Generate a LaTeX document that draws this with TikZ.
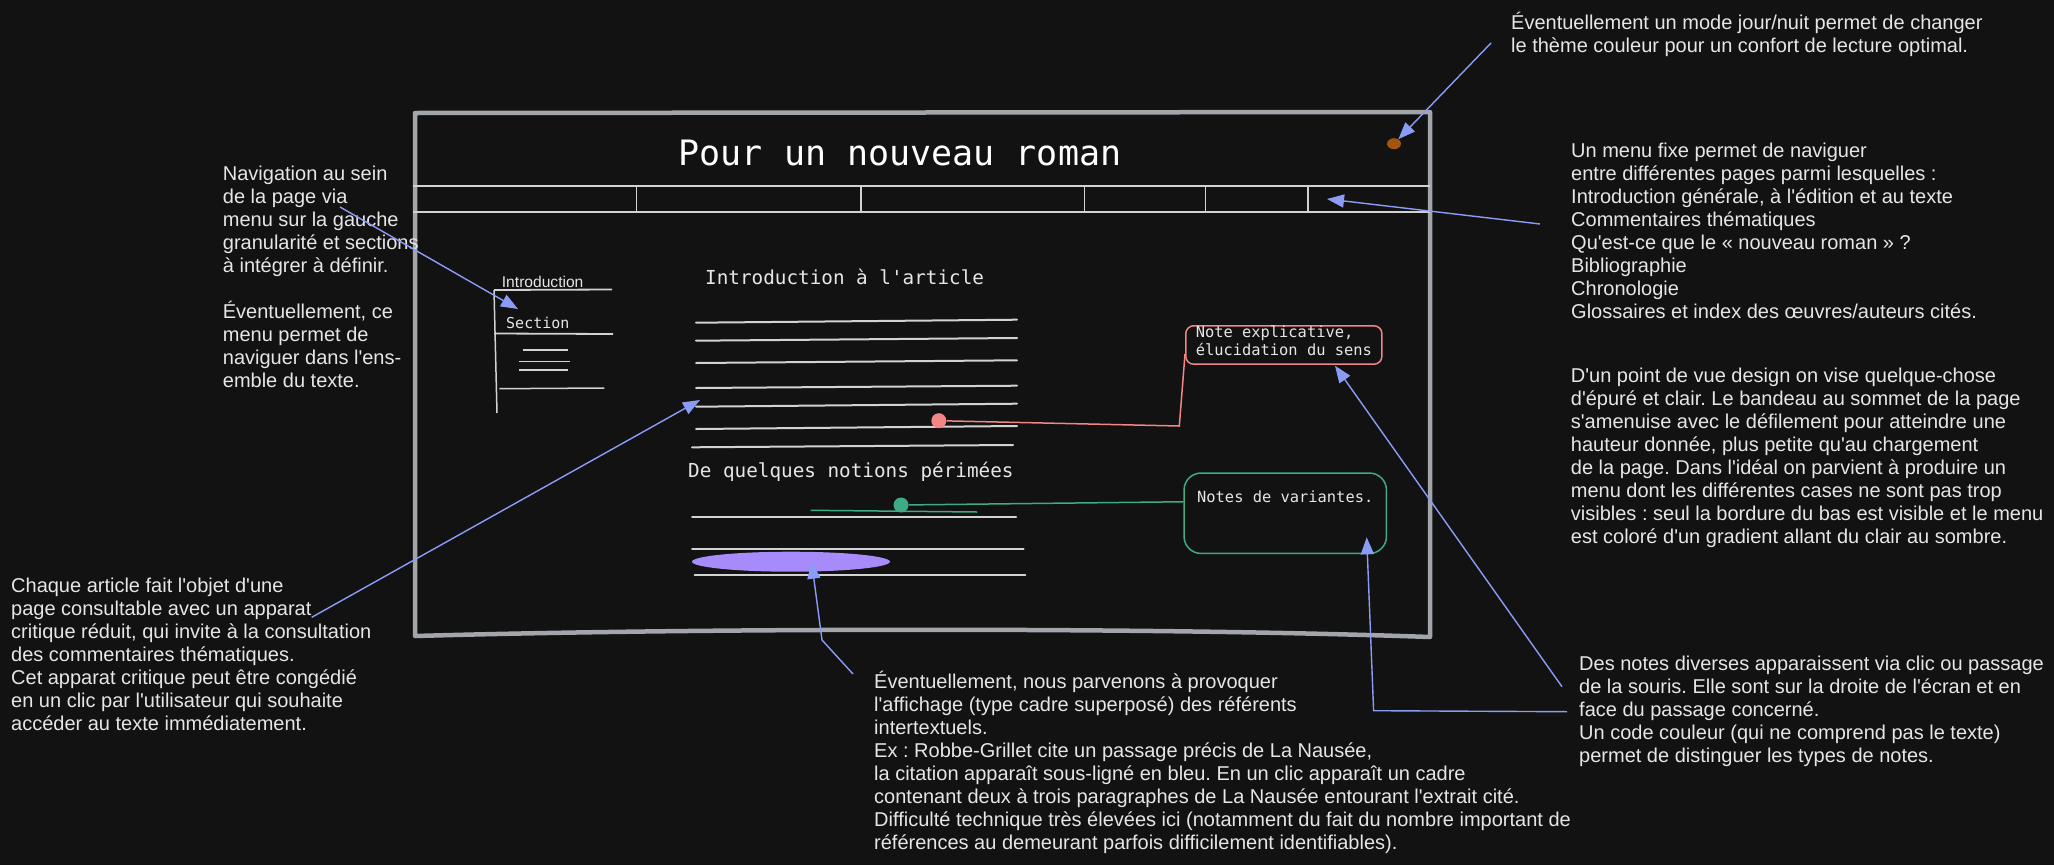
\documentclass[tikz,border=0pt]{standalone}
\usepackage{fontspec}
\usetikzlibrary{arrows.meta,shapes.geometric}
\newfontfamily\annfont{Liberation Sans}[Ligatures=TeXOff]
\newfontfamily\monofont{DejaVu Sans Mono}
\definecolor{bg}{HTML}{121212}
\definecolor{txt}{HTML}{E6E6E6}
\definecolor{framegray}{HTML}{A2A5AA}
\definecolor{linegray}{HTML}{D2D2D2}
\definecolor{blu}{HTML}{8B9CF7}
\definecolor{redn}{HTML}{F28585}
\definecolor{grn}{HTML}{3FAA86}
\definecolor{purp}{HTML}{A78BFA}
\definecolor{orng}{HTML}{A3540E}
\frenchspacing
\begin{document}
\begin{tikzpicture}[x=1pt,y=-1pt,
  ann/.style={font=\annfont\fontsize{20}{23}\selectfont\frenchspacing, text=txt, align=left, anchor=base west, inner sep=0pt},
  monotxt/.style={font=\monofont\fontsize{#1}{#1}\selectfont, text=txt, anchor=base west, inner sep=0pt},
  frameline/.style={draw=framegray, line width=4.5pt, line join=round, line cap=round},
  mline/.style={draw=linegray, line width=2pt, line cap=round},
  menuline/.style={draw=linegray, line width=1.5pt},
  arr/.style={draw=blu, line width=1.4pt, -{Triangle[length=17pt,width=13pt]}},
  dot/.style={circle, minimum size=15pt, inner sep=0pt, fill=#1}
]
\useasboundingbox (0,0) rectangle (2054,865);
\fill[bg] (0,0) rectangle (2054,865);

% ---------- page frame ----------
\draw[frameline] (415,113) -- (1430,112) -- (1430,637)
  .. controls (1150,627) and (700,628) .. (415,636) -- cycle;

% header title
\node[monotxt=35, anchor=base, text=white] (title) at (900,165.7) {Pour un nouveau roman};
\node[ellipse, fill=orng, minimum width=14pt, minimum height=11pt, inner sep=0pt] (odot) at (1394,143.7) {};

% menu bar
\draw[menuline] (413,186) -- (1430,186);
\draw[draw=linegray, line width=2.5pt] (413,212) -- (1430,212);
\foreach \xx in {636.4,860.8,1084.5,1205.7,1308.2}{\draw[menuline] (\xx,186) -- (\xx,212);}
\coordinate (menucell) at (1327,199);

% left mini menu
\node[font=\annfont\fontsize{15.6}{18}\selectfont, text=txt, anchor=base west, inner sep=0pt] (intro) at (501.7,287.7) {Introduction};
\draw[draw=linegray, line width=1.8pt] (494,290) -- (612,289.5);
\draw[draw=linegray, line width=1.5pt] (494,290) -- (497,413);
\node[monotxt=15] (section) at (506,328.3) {Section};
\draw[draw=linegray, line width=1.8pt] (494,333.5) -- (613,334);
\draw[draw=linegray, line width=1.5pt] (522.7,350) -- (568,350);
\draw[draw=linegray, line width=1.5pt] (519.3,361.7) -- (570,361.7);
\draw[draw=linegray, line width=1.5pt] (519.3,370) -- (568,370);
\draw[draw=linegray, line width=1.5pt] (499.3,388.7) -- (604.3,388);

% article text
\node[monotxt=19.3] (h1) at (705,284.3) {Introduction à l'article};
\draw[mline] (696,322.7) -- (1017,319.7);
\draw[mline] (696,340.7) -- (1017,338);
\draw[mline] (696,363) -- (1017,360.3);
\draw[mline] (696,388) -- (1017,385.7);
\draw[mline] (696,406.7) -- (1017,403.7);
\draw[mline] (696,429) -- (1017,426);
\draw[mline] (692,447.3) -- (1013,445);
\node[monotxt=19.3] (h2) at (688,477.3) {De quelques notions périmées};
\draw[mline] (692,517) -- (1016,517);
\draw[mline] (692,548.7) -- (1023.7,548.7);
\draw[mline] (694.6,575) -- (1025.4,575);
\node[ellipse, fill=purp, minimum width=198pt, minimum height=20pt, inner sep=0pt] (purple) at (791,561.7) {};

% notes
\node[dot=redn] (rdot) at (938.8,420.7) {};
\node[draw=redn, line width=1.5pt, rounded corners=8pt, minimum width=196pt, minimum height=38.3pt,
      inner xsep=10pt, inner ysep=0pt, anchor=north west, align=left,
      font=\monofont\fontsize{15.4}{18.4}\selectfont, text=txt] (note1) at (1185,325)
  {\rule{0pt}{11.7pt}Note explicative,\\élucidation du sens\rule[-8.3pt]{0pt}{0pt}};
\draw[draw=redn, line width=1.5pt] (rdot) -- (1179.3,426) -- ([yshift=-9pt]note1.west);

\node[dot=grn] (gdot) at (901,505) {};
\draw[draw=grn, line width=1.5pt] (810.7,510.3) -- (977,512);
\node[draw=grn, line width=1.5pt, rounded corners=17pt, minimum width=202.4pt, inner xsep=10pt, inner ysep=0pt,
      text height=29.4pt, text depth=51pt, anchor=north west,
      font=\monofont\fontsize{15.4}{18.4}\selectfont, text=txt] (note2) at (1183.3,472.3) {Notes de variantes.};
\draw[draw=grn, line width=1.5pt] (gdot) -- ([yshift=11.5pt]note2.west);

% ---------- annotations (anchor = baseline of last line) ----------
\node[ann] (tr) at (1511,52.3) {Éventuellement un mode jour/nuit permet de changer\\le thème couleur pour un confort de lecture optimal.};
\node[ann] (menutxt) at (1571,318.3) {Un menu fixe permet de naviguer\\entre différentes pages parmi lesquelles :\\Introduction générale, à l'édition et au texte\\Commentaires thématiques\\Qu'est-ce que le « nouveau roman » ?\\Bibliographie\\Chronologie\\Glossaires et index des œuvres/auteurs cités.};
\node[ann] (design) at (1570.7,543.7) {D'un point de vue design on vise quelque-chose\\d'épuré et clair. Le bandeau au sommet de la page\\s'amenuise avec le défilement pour atteindre une\\hauteur donnée, plus petite qu'au chargement\\de la page. Dans l'idéal on parvient à produire un\\menu dont les différentes cases ne sont pas trop\\visibles : seul la bordure du bas est visible et le menu\\est coloré d'un gradient allant du clair au sombre.};
\node[ann] (notes) at (1579,762) {Des notes diverses apparaissent via clic ou passage\\de la souris. Elle sont sur la droite de l'écran et en\\face du passage concerné.\\Un code couleur (qui ne comprend pas le texte)\\permet de distinguer les types de notes.};
\node[ann] (chaque) at (11,730.3) {Chaque article fait l'objet d'une\\page consultable avec un apparat\\critique réduit, qui invite à la consultation\\des commentaires thématiques.\\Cet apparat critique peut être congédié\\en un clic par l'utilisateur qui souhaite\\accéder au texte immédiatement.};
\node[ann] (nav) at (222.7,387.7) {Navigation au sein\\de la page via\\menu sur la gauche\\granularité et sections\\à intégrer à définir.\\[23pt]Éventuellement, ce\\menu permet de\\naviguer dans l'ens-\\emble du texte.};
\node[ann] (bottom) at (874,849.3) {Éventuellement, nous parvenons à provoquer\\l'affichage (type cadre superposé) des référents\\intertextuels.\\Ex : Robbe-Grillet cite un passage précis de La Nausée,\\la citation apparaît sous-ligné en bleu. En un clic apparaît un cadre\\contenant deux à trois paragraphes de La Nausée entourant l'extrait cité.\\Difficulté technique très élevées ici (notamment du fait du nombre important de\\références au demeurant parfois difficilement identifiables).};

% ---------- arrows ----------
\coordinate (orA) at (1491,43);
\draw[arr] (orA) -- (odot);
\coordinate (mnA) at (1540,224);
\draw[arr] (mnA) -- (menucell);
\coordinate (navA) at (340,207);
\coordinate (navB) at (518,309);
\draw[arr] (navA) -- (navB);
\coordinate (chA) at (311.7,617.3);
\coordinate (chB) at (700,400);
\draw[arr] (chA) -- (chB);
\coordinate (btA) at (853,674);
\coordinate (btB) at (811.6,561.7);
\draw[arr] (btA) -- (822,640) -- (btB);
\coordinate (ntA) at (1562,686.7);
\coordinate (ntB) at (1335,365.7);
\draw[arr] (ntA) -- (ntB);
\coordinate (ntC) at (1567,711.7);
\coordinate (ntD) at (1366.7,537.3);
\draw[arr] (ntC) -- (1373.6,710.7) -- (ntD);
\end{tikzpicture}
\end{document}
